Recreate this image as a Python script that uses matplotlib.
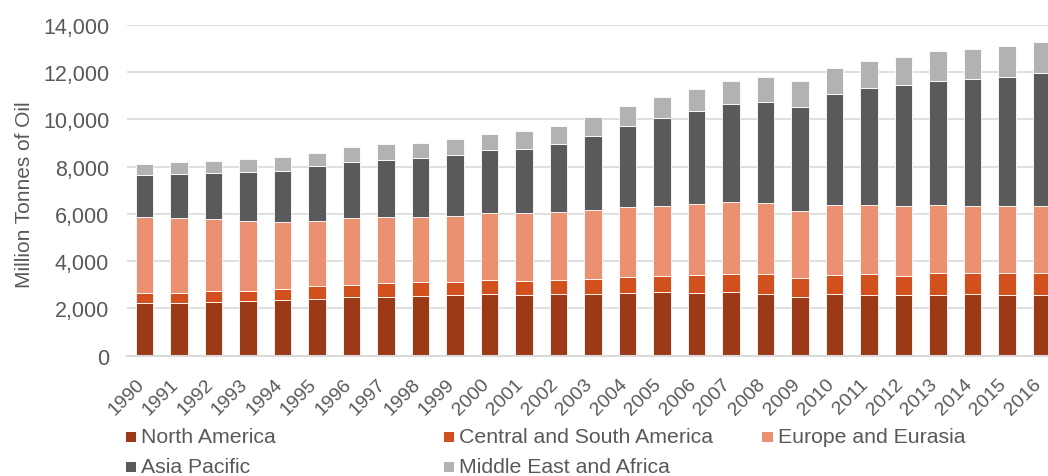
import matplotlib
matplotlib.use("Agg")
import matplotlib.pyplot as plt
import numpy as np
from matplotlib.patches import Rectangle
from matplotlib.transforms import ScaledTranslation

years = [str(y) for y in range(1990, 2017)]

regions = ["North America", "Central and South America", "Europe and Eurasia",
           "Asia Pacific", "Middle East and Africa"]

north_america = [2220, 2220, 2260, 2310, 2350, 2410, 2480, 2500, 2520, 2560,
                 2620, 2560, 2600, 2600, 2650, 2690, 2650, 2680, 2630, 2500,
                 2600, 2590, 2550, 2590, 2630, 2590, 2590]
central_south_america = [430, 450, 460, 450, 490, 530, 530, 570, 580, 580,
                         600, 620, 620, 650, 690, 700, 760, 760, 810, 800,
                         810, 850, 840, 890, 890, 890, 890]
europe_eurasia = [3210, 3160, 3050, 2950, 2820, 2770, 2830, 2790, 2780, 2790,
                  2830, 2840, 2860, 2920, 2960, 2960, 3010, 3050, 3030, 2840,
                  2970, 2950, 2960, 2910, 2830, 2870, 2870]
asia_pacific = [1780, 1880, 1950, 2080, 2180, 2300, 2380, 2440, 2470, 2560,
                2650, 2750, 2870, 3120, 3420, 3710, 3920, 4170, 4290, 4400,
                4680, 4930, 5090, 5250, 5360, 5440, 5600]
middle_east_africa = [490, 490, 540, 530, 590, 580, 630, 650, 660, 690,
                      690, 750, 780, 810, 860, 900, 950, 970, 1020, 1070,
                      1120, 1150, 1200, 1240, 1290, 1320, 1330]

series = [north_america, central_south_america, europe_eurasia,
          asia_pacific, middle_east_africa]
colors = ["#9C3A17", "#D1501E", "#EB9070", "#5A5A5A", "#B2B2B2"]

text_color = "#595959"
grid_color = "#D9D9D9"
font = "Liberation Sans"

W, H = 1048, 477
fig = plt.figure(figsize=(W / 100, H / 100), dpi=100)

ax_left, ax_right = 127.25 / W, 1.0
ax_bottom, ax_top = (H - 356.7) / H, (H - 26) / H
ax = fig.add_axes([ax_left, ax_bottom, ax_right - ax_left, ax_top - ax_bottom])

x = np.arange(len(years))
bottom = np.zeros(len(years))
for vals, col, name in zip(series, colors, regions):
    v = np.array(vals, dtype=float)
    ax.bar(x, v, width=0.5, bottom=bottom, color=col, edgecolor="white",
           linewidth=0.6, label=name, zorder=3)
    bottom += v

# x range: first slot starts at the axes edge, the last bar runs into the figure border
ax.set_xlim(-0.5, -0.5 + (W - 127.25) / 34.5)
ax.set_ylim(0, 14000)
ax.set_yticks(np.arange(0, 14001, 2000))
ax.set_yticklabels([f"{v:,}" for v in range(0, 14001, 2000)])
ax.set_xticks(x)
ax.set_xticklabels(years, rotation=45, ha="right", rotation_mode="default")

ax.yaxis.grid(True, color=grid_color, linewidth=1.2, zorder=0)
ax.set_axisbelow(True)
for side in ["top", "right", "left"]:
    ax.spines[side].set_visible(False)
ax.spines["bottom"].set_color(grid_color)
ax.spines["bottom"].set_linewidth(1.5)
ax.spines["bottom"].set_zorder(4)

ax.tick_params(axis="y", length=0, colors=text_color, labelsize=15.5, pad=13)
ax.tick_params(axis="x", length=0, colors=text_color, labelsize=14, pad=14)
shift = ScaledTranslation(3 / 100, 0, fig.dpi_scale_trans)
for lbl in ax.get_xticklabels():
    lbl.set_fontfamily(font)
    lbl.set_transform(lbl.get_transform() + shift)
for lbl in ax.get_yticklabels():
    lbl.set_fontfamily(font)

ax.set_ylabel("Million Tonnes of Oil", fontsize=15, color=text_color, fontfamily=font)
ax.yaxis.set_label_coords(-0.101, 0.49)

# legend laid out on a fixed grid below the axis
entries = [
    (0, 125.5, 438), (1, 443.5, 438), (2, 762, 438),
    (3, 125.5, 468), (4, 443.5, 468),
]
sq = 10.5
for idx, px, py in entries:
    fig.patches.append(Rectangle((px / W, (H - py - sq / 2) / H), sq / W, sq / H,
                                 transform=fig.transFigure, facecolor=colors[idx],
                                 edgecolor="none"))
    fig.text((px + sq + 5) / W, (H - py) / H, regions[idx], fontsize=15.3,
             color=text_color, fontfamily=font, va="center", ha="left")

fig.savefig("out.png", dpi=100)
